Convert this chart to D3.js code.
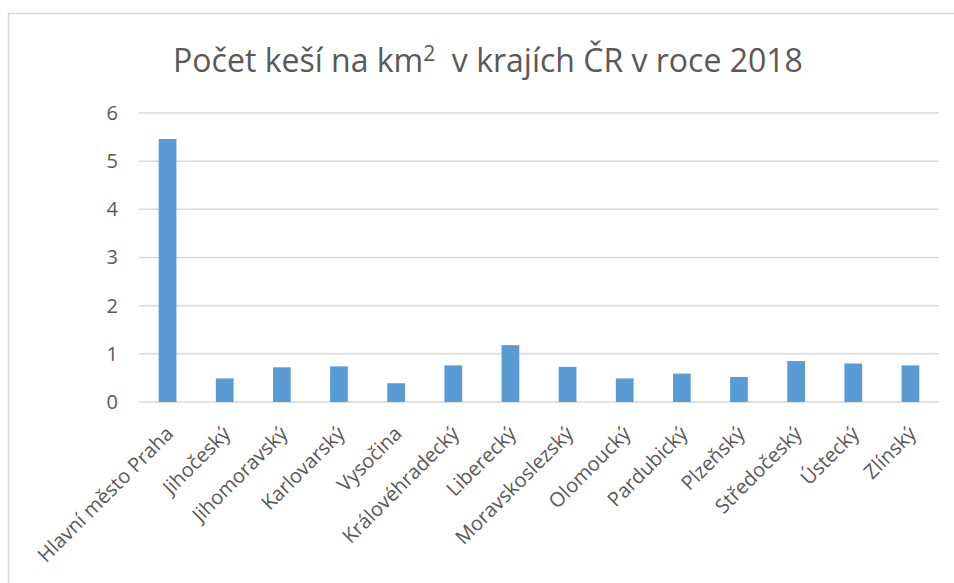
<!DOCTYPE html>
<html>
<head>
<meta charset="utf-8">
<script src="https://cdn.jsdelivr.net/npm/d3@7"></script>
<style>
  body { margin: 0; background: #fff; }
  text { font-family: "Open Sans", "Noto Sans", sans-serif; fill: #595959; }
</style>
</head>
<body>
<div id="chart"></div>
<script>
const width = 954
const height = 583

// data
const regions = ["Hlavní město Praha", "Jihočeský", "Jihomoravský", "Karlovarský", "Vysočina",
  "Královéhradecký", "Liberecký", "Moravskoslezský", "Olomoucký", "Pardubický",
  "Plzeňský", "Středočeský", "Ústecký", "Zlínský"]
const cachesPerKm2 = [5.46, 0.49, 0.72, 0.74, 0.39, 0.76, 1.18, 0.73, 0.49, 0.59, 0.52, 0.85, 0.80, 0.76]
const yTicks = [0, 1, 2, 3, 4, 5, 6]

const margin = {top: 113, right: 15, bottom: 181, left: 139}

const svg = d3.select("#chart").append("svg")
  .attr("width", width)
  .attr("height", height)

// chart frame (runs off the page on the right and bottom)
svg.append("rect")
  .attr("x", 8.5).attr("y", 13.5)
  .attr("width", 1000).attr("height", 1000)
  .attr("fill", "none")
  .attr("stroke", "#d9d9d9")
  .attr("stroke-width", 1.5)

const x = d3.scaleBand()
  .domain(regions)
  .range([margin.left, width - margin.right])
  .paddingInner(0.69)
  .paddingOuter(0.345)

const y = d3.scaleLinear()
  .domain([0, 6])
  .range([height - margin.bottom, margin.top])

// gridlines
svg.append("g")
  .selectAll("line")
  .data(yTicks)
  .join("line")
  .attr("x1", margin.left)
  .attr("x2", width - margin.right)
  .attr("y1", d => y(d))
  .attr("y2", d => y(d))
  .attr("stroke", "#d9d9d9")
  .attr("stroke-width", 1.5)

// y axis labels
const yAxis = svg.append("g")
  .attr("transform", `translate(${margin.left - 21},0)`)
  .call(d3.axisLeft(y).tickValues(yTicks).tickFormat(d3.format("d")).tickSize(0).tickPadding(0))
yAxis.select(".domain").remove()
yAxis.selectAll("text").style("font-size", "20px").attr("fill", "#595959")

// bars
svg.append("g")
  .selectAll("rect")
  .data(cachesPerKm2)
  .join("rect")
  .attr("x", (d, i) => x(regions[i]))
  .attr("y", d => y(d))
  .attr("width", x.bandwidth())
  .attr("height", d => y(0) - y(d))
  .attr("fill", "#5b9bd5")

// category labels, rotated
const xAxis = svg.append("g")
  .attr("transform", `translate(0,${y(0)})`)
  .call(d3.axisBottom(x).tickSize(0).tickPadding(0))
xAxis.select(".domain").remove()
xAxis.selectAll("text")
  .style("font-size", "20px")
  .attr("fill", "#595959")
  .attr("text-anchor", "end")
  .attr("dy", null)
  .attr("y", 0)
  .attr("transform", "translate(7,33) rotate(-45)")

// title
const title = svg.append("text")
  .attr("x", 488)
  .attr("y", 72)
  .attr("text-anchor", "middle")
  .style("font-size", "32px")
title.append("tspan").text("Počet keší na km")
title.append("tspan").attr("dy", -11).style("font-size", "21px").text("2")
title.append("tspan").attr("dy", 11).text("\u00a0 v krajích ČR v roce 2018")
</script>
</body>
</html>
